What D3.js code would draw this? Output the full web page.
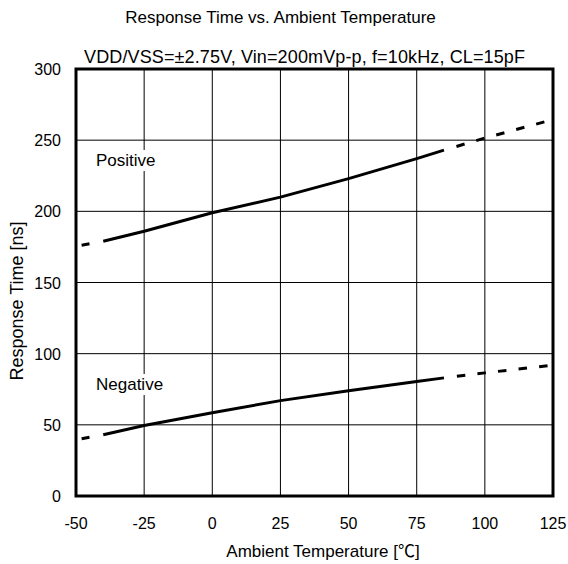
<!DOCTYPE html>
<html><head><meta charset="utf-8">
<script src="https://cdn.jsdelivr.net/npm/d3@7"></script>
<style>body{margin:0;background:#fff}svg{display:block}text{font-family:"Liberation Sans",Arial,sans-serif;fill:#000}</style>
</head><body><svg id="c" width="568" height="564"></svg>
<script>
const xTicks = [-50,-25,0,25,50,75,100,125];
const yTicks = [0,50,100,150,200,250,300];
const posSolidT = [-40,-25,0,25,50,75,85];
const posSolidV = [179,186,199,210,223,237,243];
const posDashLeftT = [-40,-50];
const posDashLeftV = [179,175.5];
const posDashRightT = [85,100,125];
const posDashRightV = [243,251.5,264.5];
const negSolidT = [-40,-25,0,25,50,75,85];
const negSolidV = [43,49.5,58.5,67,74,80.5,83];
const negDashLeftT = [-40,-50];
const negDashLeftV = [43,39.5];
const negDashRightT = [85,100,125];
const negDashRightV = [83,86.5,92];

const svg = d3.select("#c");
const L=76,R=553,T=69,B=496;
const x = d3.scaleLinear().domain([-50,125]).range([L,R]);
const y = d3.scaleLinear().domain([0,300]).range([B,T]);

// grid
svg.append("g").selectAll("line").data(xTicks).join("line")
  .attr("x1",d=>x(d)).attr("x2",d=>x(d)).attr("y1",T).attr("y2",B)
  .attr("stroke","#000").attr("stroke-width",1);
svg.append("g").selectAll("line").data(yTicks).join("line")
  .attr("y1",d=>y(d)).attr("y2",d=>y(d)).attr("x1",L).attr("x2",R)
  .attr("stroke","#000").attr("stroke-width",1);

// labels with white background
function label(txt,px,py){
  const g=svg.append("g");
  const t=g.append("text").attr("x",px).attr("y",py).attr("font-size",17).text(txt);
  const bb=t.node().getBBox();
  g.insert("rect","text").attr("x",bb.x-2).attr("y",bb.y-1).attr("width",bb.width+4).attr("height",bb.height+2).attr("fill","#fff");
}
label("Positive",96,166);
label("Negative",96,390);

const line = d3.line().x(d=>x(d[0])).y(d=>y(d[1]));
const dashR = "0,13,8.5,12.2,8.5,12.2,8.5,12.2,8.5,12.2,8.5,12.2,8.5,12.2";
function draw(ts,vs,dash){
  svg.append("path").datum(ts.map((t,i)=>[t,vs[i]])).attr("d",line)
    .attr("fill","none").attr("stroke","#000").attr("stroke-width",3)
    .attr("stroke-dasharray",dash);
}
draw(posSolidT,posSolidV,null);
draw(posDashLeftT,posDashLeftV,"0,14,8,100");
draw(posDashRightT,posDashRightV,dashR);
draw(negSolidT,negSolidV,null);
draw(negDashLeftT,negDashLeftV,"0,14,8,100");
draw(negDashRightT,negDashRightV,dashR);

// frame
svg.append("rect").attr("x",L).attr("y",T).attr("width",R-L).attr("height",B-T)
  .attr("fill","none").attr("stroke","#000").attr("stroke-width",3);

// tick labels
svg.append("g").selectAll("text").data(xTicks).join("text")
  .attr("x",d=>x(d)).attr("y",528.5).attr("text-anchor","middle").attr("font-size",16).text(d=>d);
svg.append("g").selectAll("text").data(yTicks).join("text")
  .attr("x",61).attr("y",d=>y(d)+6).attr("text-anchor","end").attr("font-size",16).text(d=>d);

svg.append("text").attr("x",280.5).attr("y",23).attr("text-anchor","middle").attr("font-size",17)
  .text("Response Time vs. Ambient Temperature");
svg.append("text").attr("x",304.5).attr("y",63).attr("text-anchor","middle").attr("font-size",18)
  .attr("textLength",441).attr("lengthAdjust","spacing")
  .text("VDD/VSS=±2.75V, Vin=200mVp-p, f=10kHz, CL=15pF");
const xt = svg.append("text").attr("x",323).attr("y",556.5).attr("text-anchor","middle").attr("font-size",17);
xt.append("tspan").text("Ambient Temperature [");
xt.append("tspan").style("font-family","'Noto Sans CJK JP'").text("℃");
xt.append("tspan").text("]");
svg.append("text").attr("transform","translate(23,301) rotate(-90)").attr("text-anchor","middle").attr("font-size",18)
  .text("Response Time [ns]");
</script></body></html>
